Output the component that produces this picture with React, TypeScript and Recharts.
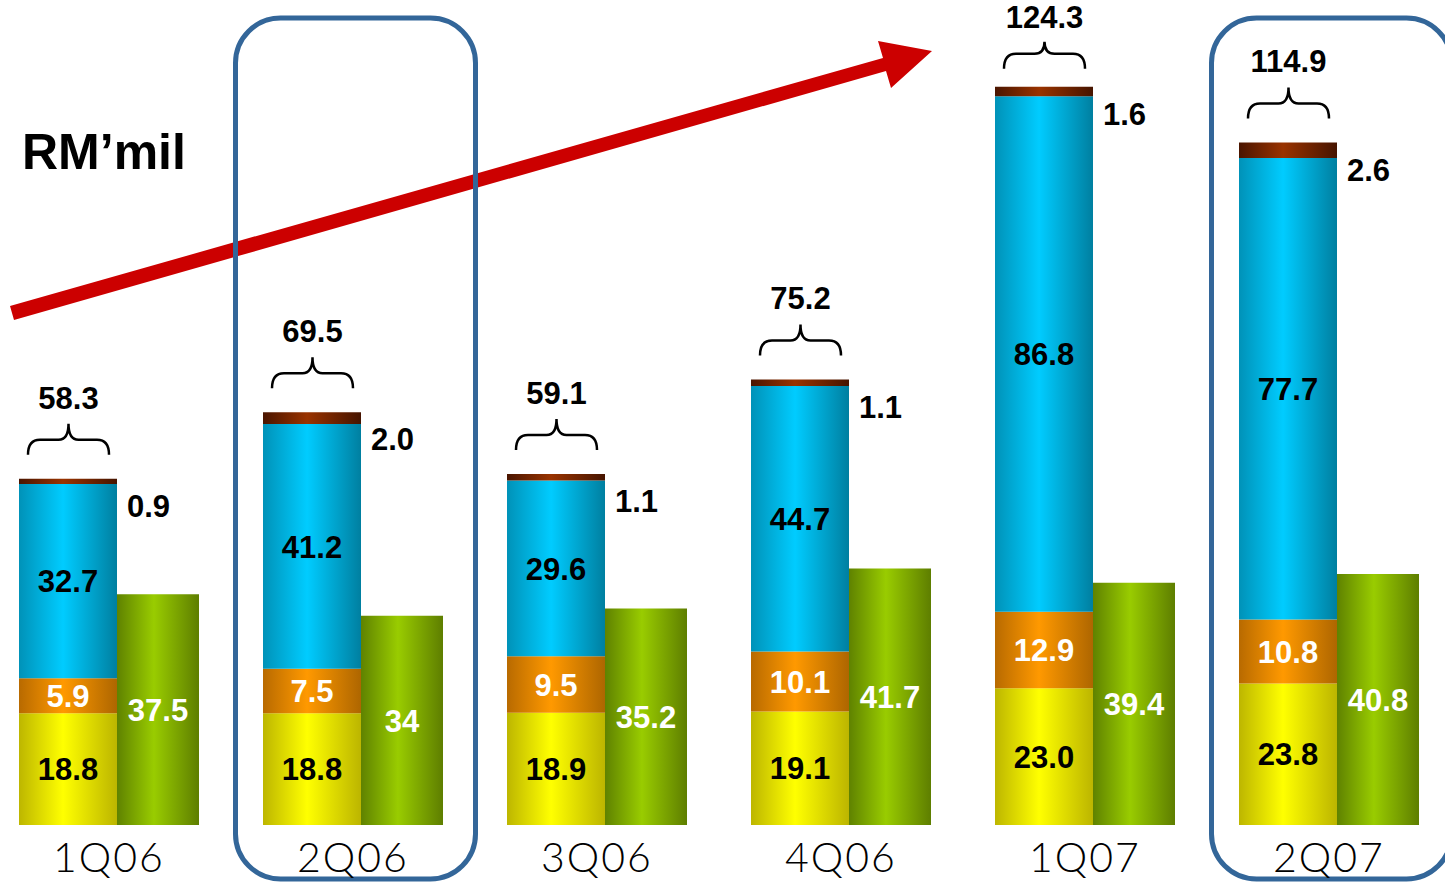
import React from 'react';
import { BarChart, Bar, XAxis, YAxis, LabelList, ReferenceArea } from 'recharts';

const quarters = ['1Q06', '2Q06', '3Q06', '4Q06', '1Q07', '2Q07'];
const yellowVals = [18.8, 18.8, 18.9, 19.1, 23.0, 23.8];
const orangeVals = [5.9, 7.5, 9.5, 10.1, 12.9, 10.8];
const blueVals = [32.7, 41.2, 29.6, 44.7, 86.8, 77.7];
const brownVals = [0.9, 2.0, 1.1, 1.1, 1.6, 2.6];
const stackTotals = [58.3, 69.5, 59.1, 75.2, 124.3, 114.9];
const greenVals = [37.5, 34, 35.2, 41.7, 39.4, 40.8];
const boxedQuarters = ['2Q06', '2Q07'];

const data = quarters.map((q, i) => ({
  q,
  yellow: yellowVals[i],
  orange: orangeVals[i],
  blue: blueVals[i],
  brown: brownVals[i],
  total: stackTotals[i],
  green: greenVals[i],
}));

const labelFont: React.CSSProperties = {
  fontFamily: '"Liberation Sans", Arial, sans-serif',
  fontWeight: 700,
  fontSize: 31,
};

// label props differ a bit between recharts versions, so read the viewBox first
const rectOf = (p: any) => {
  const vb = p.viewBox && p.viewBox.width != null ? p.viewBox : p;
  return { x: Number(vb.x), y: Number(vb.y), w: Number(vb.width), h: Number(vb.height) };
};

const centerLabel = (color: string, fmt: (v: number) => string) => (p: any) => {
  if (p.value == null) return null;
  const { x, y, w, h } = rectOf(p);
  return (
    <text x={x + w / 2} y={y + h / 2} dy="0.36em" textAnchor="middle" fill={color} style={labelFont}>
      {fmt(Number(p.value))}
    </text>
  );
};

const sideLabel = (p: any) => {
  const { x, y, w } = rectOf(p);
  return (
    <text x={x + w + 10} y={y + 27} dy="0.36em" textAnchor="start" fill="#000" style={labelFont}>
      {Number(p.value).toFixed(1)}
    </text>
  );
};

const braceLabel = (p: any) => {
  const { x, y, w } = rectOf(p);
  // tall bars have less room above them, so squeeze the brace a little
  const tight = y < 110;
  const L = x + 9;
  const R = x + w - 8;
  const cx = (L + R) / 2;
  const yb = y - (tight ? 18 : 24);
  const ym = y - (tight ? 33 : 39);
  const yt = y - (tight ? 45 : 55);
  const ty = y - (tight ? 59 : 70);
  const d =
    `M${L},${yb} Q${L},${ym} ${L + 12},${ym} L${cx - 10},${ym} Q${cx},${ym} ${cx},${yt} ` +
    `Q${cx},${ym} ${cx + 10},${ym} L${R - 12},${ym} Q${R},${ym} ${R},${yb}`;
  return (
    <g>
      <path d={d} fill="none" stroke="#000" strokeWidth={2.5} />
      <text x={cx} y={ty} textAnchor="middle" fill="#000" style={labelFont}>
        {Number(p.value).toFixed(1)}
      </text>
    </g>
  );
};

const QuarterTick = (p: any) => (
  <text
    x={p.x}
    y={p.y}
    dy={47}
    textAnchor="middle"
    fill="#000"
    style={{ fontFamily: 'Lato, "DejaVu Sans", sans-serif', fontWeight: 300, fontSize: 41, letterSpacing: 2 }}
  >
    {p.payload.value}
  </text>
);

const RoundBox = (p: any) => {
  const { x, y, width, height } = p;
  return (
    <rect
      x={x + 4.5}
      y={y + 8}
      width={width - 4}
      height={height + 46}
      rx={45}
      ry={45}
      fill="none"
      stroke="#336699"
      strokeWidth={5}
    />
  );
};

const grad = (id: string, edge: string, mid: string, edge2: string) => (
  <linearGradient id={id} x1="0" y1="0" x2="1" y2="0">
    <stop offset="0%" stopColor={edge} />
    <stop offset="45%" stopColor={mid} />
    <stop offset="100%" stopColor={edge2} />
  </linearGradient>
);

export default function App() {
  return (
    <div style={{ position: 'absolute', left: 0, top: 0, width: 1445, height: 884, overflow: 'hidden', background: '#fff' }}>
      <svg width={1445} height={884} style={{ position: 'absolute', left: 0, top: 0 }}>
        <polygon points="10,306 883,58 878,41 932,51 891,88 886,71 14,320" fill="#CC0000" />
        <text x={22} y={169} fill="#000" style={{ ...labelFont, fontSize: 50 }}>
          RM’mil
        </text>
      </svg>
      <div style={{ position: 'absolute', left: 0, top: 0 }}>
        <BarChart
          width={1445}
          height={884}
          data={data}
          margin={{ top: 10, right: -6, bottom: 0, left: -13 }}
          barGap={0}
        >
          <defs>
            {grad('gYellow', '#BDB600', '#FFFF00', '#BCB500')}
            {grad('gOrange', '#B86A00', '#FF9900', '#AE6600')}
            {grad('gBlue', '#0092B8', '#00CCFF', '#007FA0')}
            {grad('gBrown', '#4A1500', '#993300', '#461400')}
            {grad('gGreen', '#5F8200', '#99CC00', '#5E7E00')}
          </defs>
          <XAxis
            dataKey="q"
            height={59}
            axisLine={false}
            tickLine={false}
            tickSize={0}
            tickMargin={0}
            interval={0}
            tick={QuarterTick}
          />
          <YAxis yAxisId="left" hide domain={[0, 137.2]} />
          <YAxis yAxisId="right" hide domain={[0, 132.5]} />
          {boxedQuarters.map((bq) => (
            <ReferenceArea key={bq} yAxisId="left" x1={bq} x2={bq} shape={RoundBox} />
          ))}
          <Bar yAxisId="left" dataKey="yellow" stackId="s" barSize={98} fill="url(#gYellow)" isAnimationActive={false}>
            <LabelList dataKey="yellow" content={centerLabel('#000', (v) => v.toFixed(1))} />
          </Bar>
          <Bar yAxisId="left" dataKey="orange" stackId="s" barSize={98} fill="url(#gOrange)" isAnimationActive={false}>
            <LabelList dataKey="orange" content={centerLabel('#fff', (v) => v.toFixed(1))} />
          </Bar>
          <Bar yAxisId="left" dataKey="blue" stackId="s" barSize={98} fill="url(#gBlue)" isAnimationActive={false}>
            <LabelList dataKey="blue" content={centerLabel('#000', (v) => v.toFixed(1))} />
          </Bar>
          <Bar yAxisId="left" dataKey="brown" stackId="s" barSize={98} fill="url(#gBrown)" isAnimationActive={false}>
            <LabelList dataKey="brown" content={sideLabel} />
            <LabelList dataKey="total" content={braceLabel} />
          </Bar>
          <Bar yAxisId="right" dataKey="green" barSize={82} fill="url(#gGreen)" isAnimationActive={false}>
            <LabelList dataKey="green" content={centerLabel('#fff', (v) => String(v))} />
          </Bar>
        </BarChart>
      </div>
    </div>
  );
}
